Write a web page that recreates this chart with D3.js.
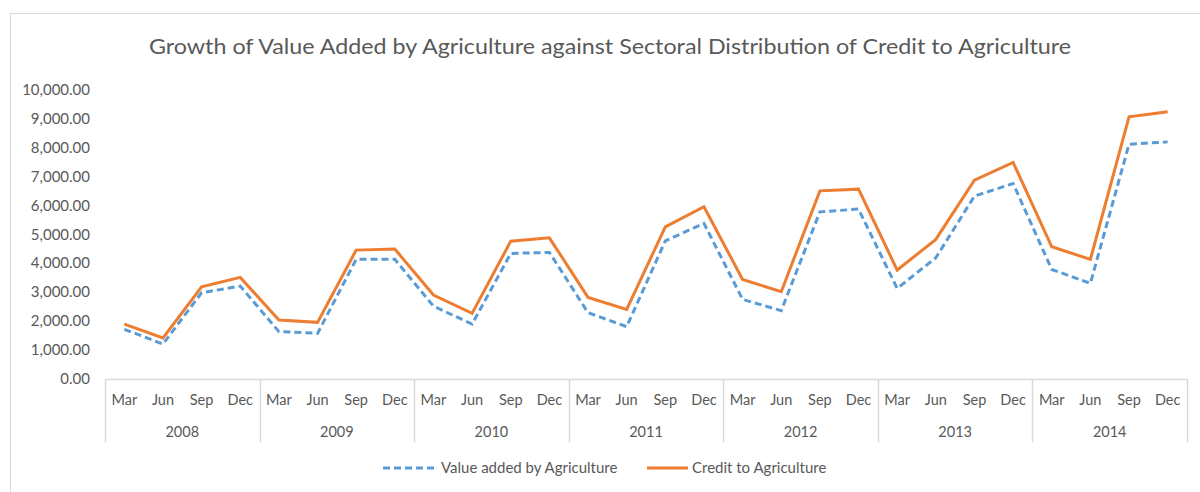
<!DOCTYPE html>
<html>
<head>
<meta charset="utf-8">
<script src="https://cdn.jsdelivr.net/npm/d3@7"></script>
<style>
  body { margin: 0; background: #fff; }
  svg { display: block; font-family: Lato, "Open Sans", sans-serif; }
</style>
</head>
<body>
<svg id="chart" width="1200" height="492"></svg>
<script>
const years = ["2008", "2009", "2010", "2011", "2012", "2013", "2014"];
const months = ["Mar", "Jun", "Sep", "Dec"];
const yTicks = [0, 1000, 2000, 3000, 4000, 5000, 6000, 7000, 8000, 9000, 10000];

const valueAdded = [
    1720, 1210, 2985, 3215,
    1640, 1580, 4140, 4140,
    2520, 1900, 4345, 4380,
    2295, 1810, 4780, 5385,
    2755, 2365, 5785, 5880,
    3135, 4195, 6330, 6765,
    3790, 3310, 8125, 8205,
];
const creditToAgri = [
    1900, 1420, 3190, 3515,
    2040, 1960, 4460, 4495,
    2905, 2270, 4770, 4885,
    2825, 2410, 5265, 5960,
    3445, 3020, 6510, 6570,
    3770, 4830, 6880, 7495,
    4575, 4140, 9070, 9245,
];

const series = [
    { name: "Value added by Agriculture", values: valueAdded, color: "#5b9bd5", dash: "7,4" },
    { name: "Credit to Agriculture", values: creditToAgri, color: "#ed7d31", dash: null },
];

const categories = years.flatMap((yr) => months.map((m) => ({ yr, m, key: yr + "-" + m })));

const svg = d3.select("#chart");
const textColor = "#595959";
const gridColor = "#d9d9d9";

const plotLeft = 105, plotRight = 1187, plotTop = 90, plotBottom = 379;

// Chart border
svg.append("rect")
    .attr("x", 10.5).attr("y", 13.5)
    .attr("width", 1300).attr("height", 600)
    .attr("fill", "none")
    .attr("stroke", gridColor);

// Title
svg.append("text")
    .attr("x", 610).attr("y", 54)
    .attr("text-anchor", "middle")
    .attr("font-size", 21)
    .attr("fill", textColor)
    .attr("textLength", 922)
    .attr("lengthAdjust", "spacingAndGlyphs")
    .text("Growth of Value Added by Agriculture against Sectoral Distribution of Credit to Agriculture");

const x = d3.scaleBand()
    .domain(categories.map((d) => d.key))
    .range([plotLeft, plotRight]);

const xYear = d3.scaleBand()
    .domain(years)
    .range([plotLeft, plotRight]);

const y = d3.scaleLinear()
    .domain([0, 10000])
    .range([plotBottom, plotTop]);

// Y axis labels
svg.append("g")
    .selectAll("text")
    .data(yTicks)
    .join("text")
    .attr("x", 90)
    .attr("y", (d) => y(d) + 5)
    .attr("text-anchor", "end")
    .attr("font-size", 15)
    .attr("fill", textColor)
    .text((d) => d3.format(",.2f")(d));

// X axis line
svg.append("line")
    .attr("x1", plotLeft).attr("x2", plotRight)
    .attr("y1", plotBottom + 0.5).attr("y2", plotBottom + 0.5)
    .attr("stroke", gridColor)
    .attr("stroke-width", 1.5);

// Year separators
const bounds = years.map((yr) => xYear(yr)).concat([plotRight]);
svg.append("g")
    .selectAll("line")
    .data(bounds)
    .join("line")
    .attr("x1", (d) => Math.round(d) + 0.5)
    .attr("x2", (d) => Math.round(d) + 0.5)
    .attr("y1", plotBottom)
    .attr("y2", 442)
    .attr("stroke", gridColor)
    .attr("stroke-width", 1.5);

// Month labels
svg.append("g")
    .selectAll("text")
    .data(categories)
    .join("text")
    .attr("x", (d) => x(d.key) + x.bandwidth() / 2)
    .attr("y", 405)
    .attr("text-anchor", "middle")
    .attr("font-size", 14.5)
    .attr("fill", textColor)
    .text((d) => d.m);

// Year labels
svg.append("g")
    .selectAll("text")
    .data(years)
    .join("text")
    .attr("x", (d) => xYear(d) + xYear.bandwidth() / 2)
    .attr("y", 437)
    .attr("text-anchor", "middle")
    .attr("font-size", 14.5)
    .attr("fill", textColor)
    .text((d) => d);

// Lines
const line = d3.line()
    .x((d, i) => x(categories[i].key) + x.bandwidth() / 2)
    .y((d) => y(d));

svg.append("g")
    .selectAll("path")
    .data(series)
    .join("path")
    .attr("d", (d) => line(d.values))
    .attr("fill", "none")
    .attr("stroke", (d) => d.color)
    .attr("stroke-width", 3)
    .attr("stroke-dasharray", (d) => d.dash)
    .attr("stroke-linejoin", "miter");

// Legend
const legendPos = [383, 647];
const legend = svg.append("g")
    .selectAll("g")
    .data(series)
    .join("g")
    .attr("transform", (d, i) => `translate(${legendPos[i]}, 468)`);

legend.append("line")
    .attr("x1", 0)
    .attr("x2", (d, i) => (i === 0 ? 54 : 41))
    .attr("y1", 0).attr("y2", 0)
    .attr("stroke", (d) => d.color)
    .attr("stroke-width", 3)
    .attr("stroke-dasharray", (d) => d.dash);

legend.append("text")
    .attr("x", (d, i) => (i === 0 ? 58 : 45))
    .attr("y", 5)
    .attr("font-size", 15)
    .attr("fill", textColor)
    .text((d) => d.name);
</script>
</body>
</html>
